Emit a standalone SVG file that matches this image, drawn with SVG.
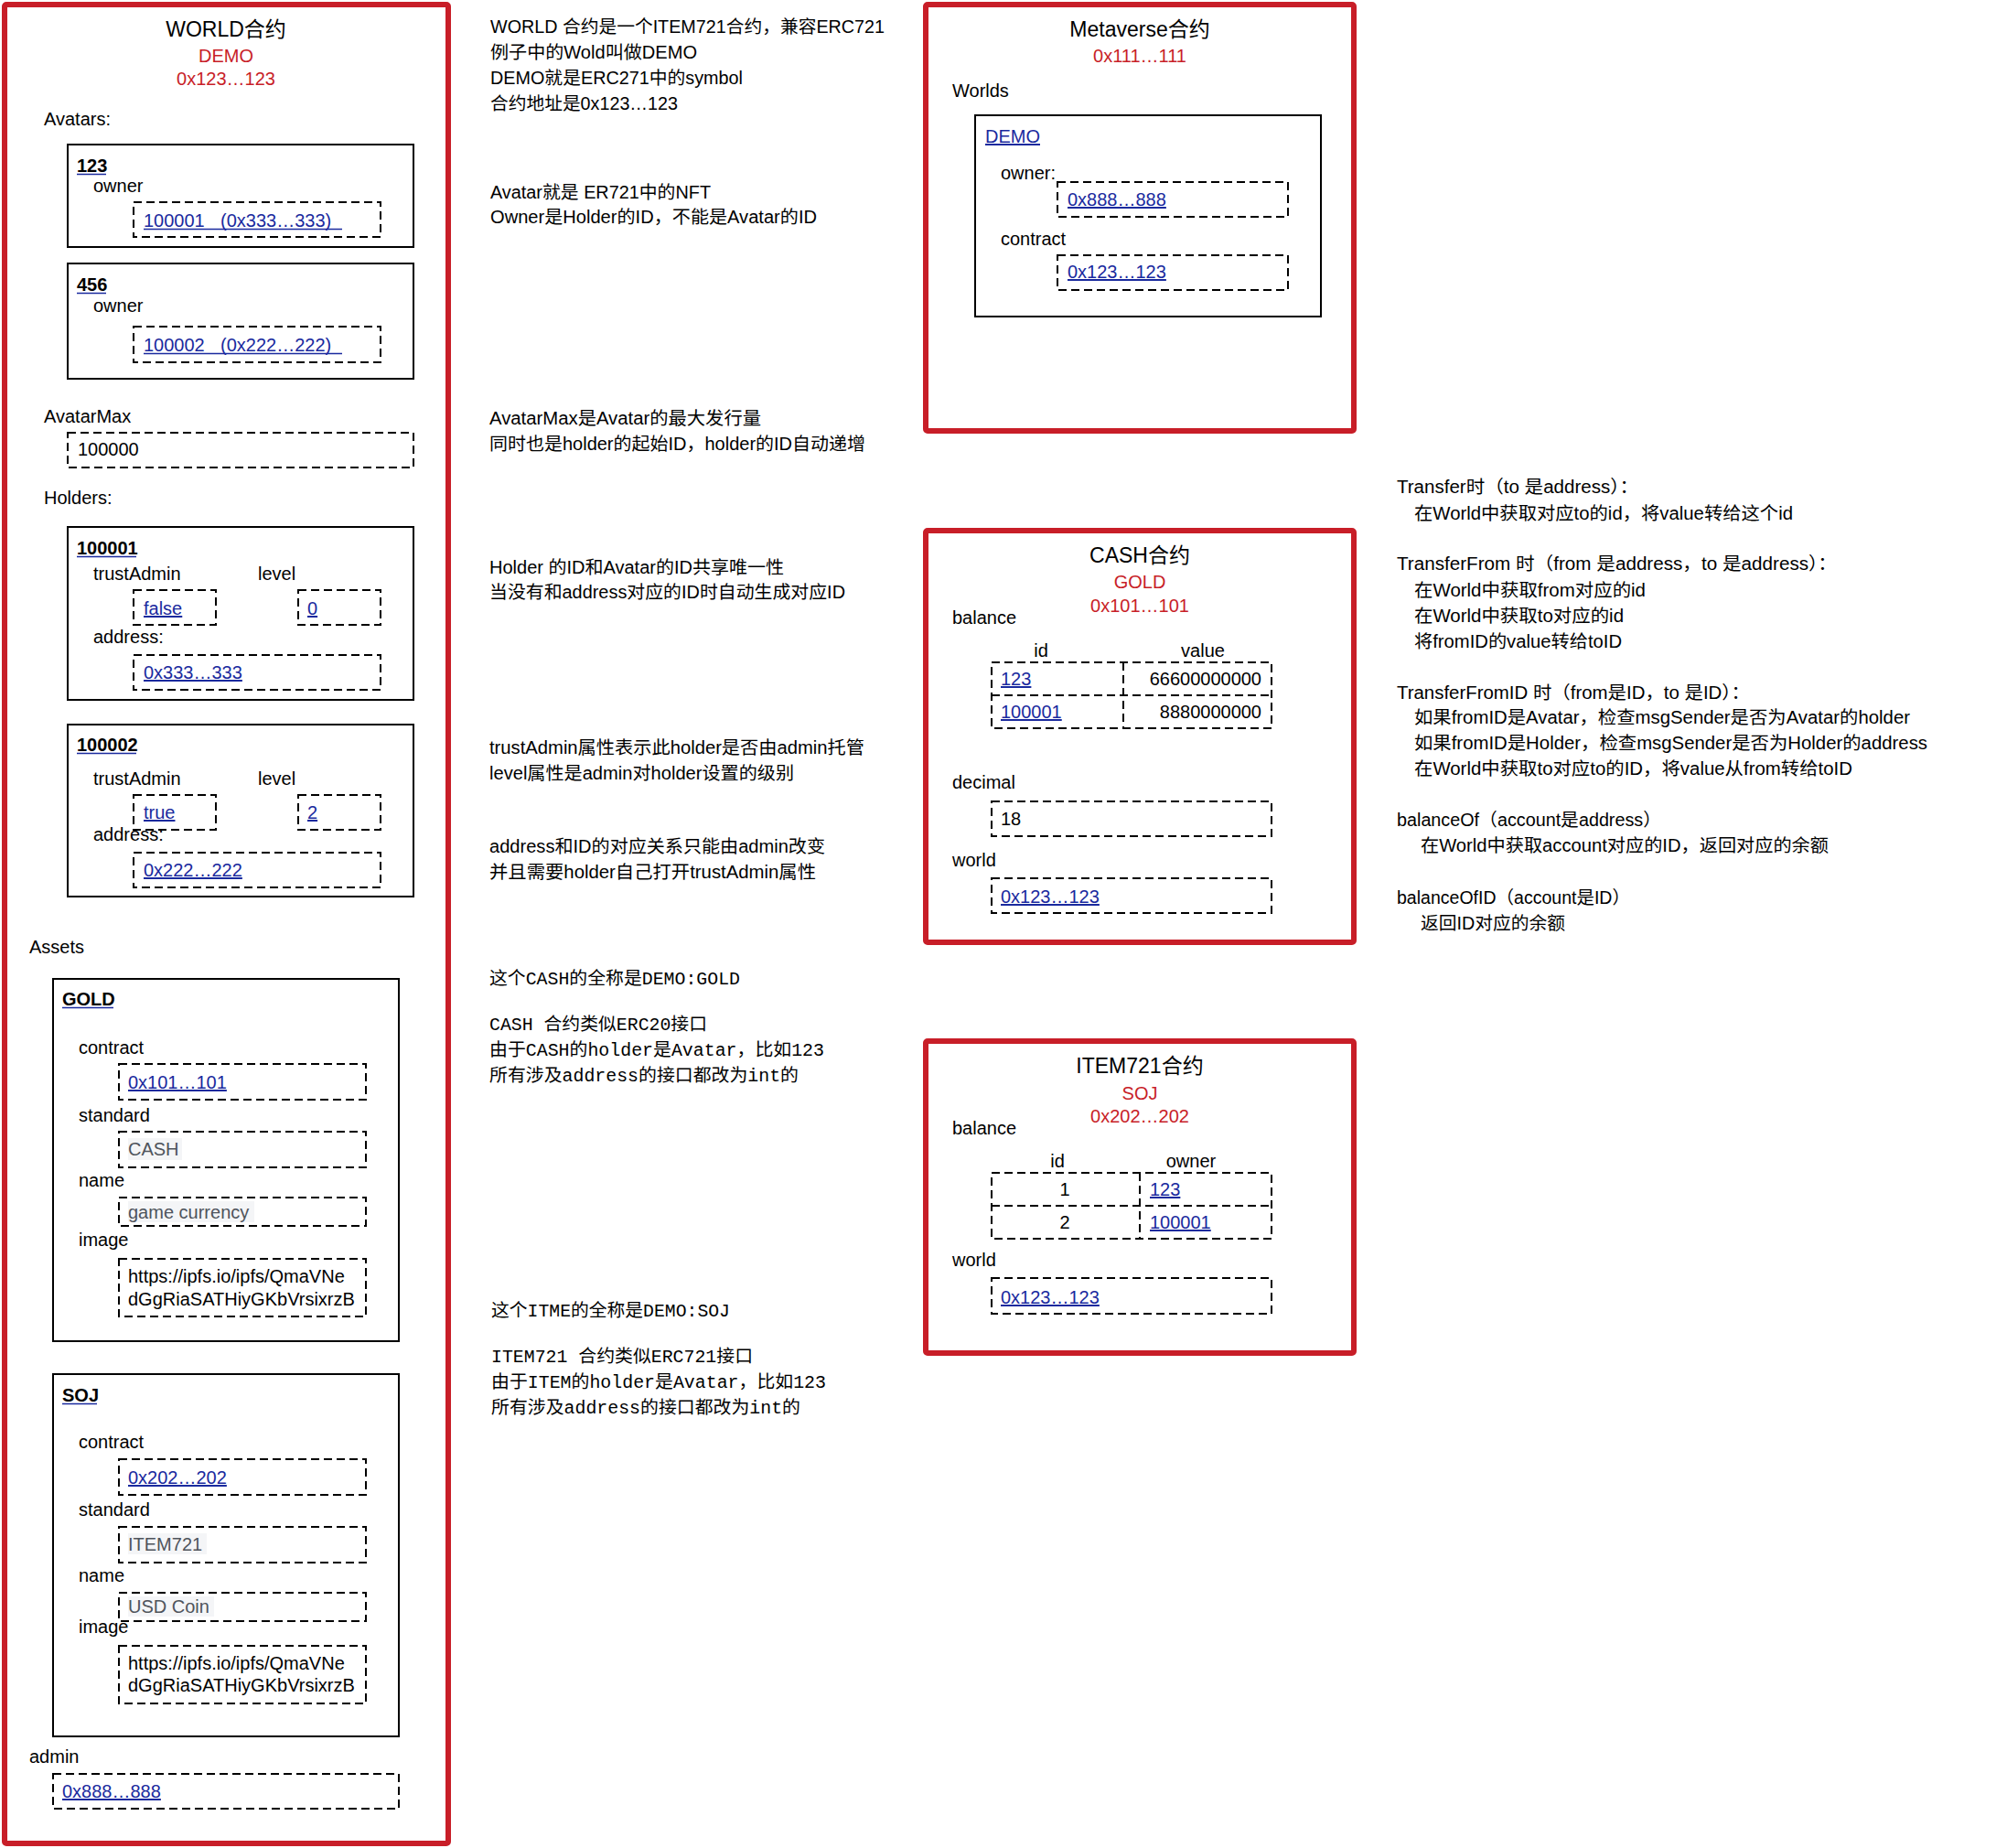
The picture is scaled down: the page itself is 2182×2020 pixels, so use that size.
<svg xmlns="http://www.w3.org/2000/svg" width="2182" height="2020" viewBox="0 0 2182 2020">
<style>
text{font-family:"Liberation Sans","Noto Sans CJK SC",sans-serif;font-size:20px;fill:#000}
.ttl{font-size:23px}
.red{fill:#c81e28}
.lnk{fill:#1a2a9e;text-decoration:underline}
.b{font-weight:bold}
.gray{fill:#4f545c}
.mid{text-anchor:middle}
.end{text-anchor:end}
.box{fill:none;stroke:#000;stroke-width:2}
.dash{fill:none;stroke:#000;stroke-width:2;stroke-dasharray:9 5}
.frame{fill:#fff;stroke:#c81e28;stroke-width:6}
.bg{fill:#f4f5f7}
.ul{stroke:#1a2a9e;stroke-width:1.5}
.note{font-size:19.5px}
.mono{font-family:"Liberation Mono","Noto Sans CJK SC",monospace;font-size:19.5px}
</style>
<rect width="2182" height="2020" fill="#fff"/>

<g id="world">
<rect class="frame" x="5" y="5" width="485" height="2010" rx="2"/>
<text class="ttl mid" x="247" y="40">WORLD合约</text>
<text class="red mid" x="247" y="68">DEMO</text>
<text class="red mid" x="247" y="93">0x123…123</text>
<text x="48" y="137">Avatars:</text>
</g>

<g id="avatar-123">
<rect class="box" x="74" y="158" width="378" height="112"/>
<text class="b" x="84" y="188">123</text>
<line class="ul" x1="84" y1="190.5" x2="116" y2="190.5"/>
<text x="102" y="210">owner</text>
<rect class="dash" x="146" y="221" width="270" height="38"/>
<text class="lnk" x="157" y="248" style="text-decoration:none">100001<tspan x="241">(0x333…333)</tspan></text>
<line class="ul" x1="157" y1="250.5" x2="374" y2="250.5"/>
</g>

<g id="avatar-456">
<rect class="box" x="74" y="288" width="378" height="126"/>
<text class="b" x="84" y="318">456</text>
<line class="ul" x1="84" y1="320.5" x2="116" y2="320.5"/>
<text x="102" y="341">owner</text>
<rect class="dash" x="146" y="357" width="270" height="39"/>
<text class="lnk" x="157" y="384" style="text-decoration:none">100002<tspan x="241">(0x222…222)</tspan></text>
<line class="ul" x1="157" y1="386.5" x2="374" y2="386.5"/>
</g>

<g id="avatar-max">
<text x="48" y="462">AvatarMax</text>
<rect class="dash" x="74" y="473" width="378" height="38"/>
<text x="85" y="498">100000</text>
<text x="48" y="551">Holders:</text>
</g>

<g id="holder-100001">
<rect class="box" x="74" y="576" width="378" height="189"/>
<text class="b" x="84" y="606">100001</text>
<line class="ul" x1="84" y1="608.5" x2="149" y2="608.5"/>
<text x="102" y="634">trustAdmin</text>
<text x="282" y="634">level</text>
<rect class="dash" x="146" y="645" width="90" height="38"/>
<text class="lnk" x="157" y="672">false</text>
<rect class="dash" x="326" y="645" width="90" height="38"/>
<text class="lnk" x="336" y="672">0</text>
<text x="102" y="703">address:</text>
<rect class="dash" x="146" y="716" width="270" height="38"/>
<text class="lnk" x="157" y="742">0x333…333</text>
</g>

<g id="holder-100002">
<rect class="box" x="74" y="792" width="378" height="188"/>
<text class="b" x="84" y="821">100002</text>
<line class="ul" x1="84" y1="823.5" x2="149" y2="823.5"/>
<text x="102" y="858">trustAdmin</text>
<text x="282" y="858">level</text>
<rect class="dash" x="146" y="869" width="90" height="38"/>
<text class="lnk" x="157" y="895">true</text>
<rect class="dash" x="326" y="869" width="90" height="38"/>
<text class="lnk" x="336" y="895">2</text>
<text x="102" y="919">address:</text>
<rect class="dash" x="146" y="932" width="270" height="38"/>
<text class="lnk" x="157" y="958">0x222…222</text>
</g>

<g id="asset-gold">
<text x="32" y="1042">Assets</text>
<rect class="box" x="58" y="1070" width="378" height="396"/>
<text class="b" x="68" y="1099">GOLD</text>
<line class="ul" x1="68" y1="1101.5" x2="124" y2="1101.5"/>
<text x="86" y="1152">contract</text>
<rect class="dash" x="130" y="1163" width="270" height="39"/>
<text class="lnk" x="140" y="1190">0x101…101</text>
<text x="86" y="1226">standard</text>
<rect class="dash" x="130" y="1237" width="270" height="39"/>
<rect class="bg" x="140" y="1244" width="59" height="24"/>
<text class="gray" x="140" y="1263">CASH</text>
<text x="86" y="1297">name</text>
<rect class="dash" x="130" y="1309" width="270" height="31"/>
<rect class="bg" x="140" y="1313" width="138" height="23"/>
<text class="gray" x="140" y="1332">game currency</text>
<text x="86" y="1362">image</text>
<rect class="dash" x="130" y="1376" width="270" height="63"/>
<text x="140" y="1402">https://ipfs.io/ipfs/QmaVNe</text>
<text x="140" y="1427">dGgRiaSATHiyGKbVrsixrzB</text>
</g>

<g id="asset-soj">
<rect class="box" x="58" y="1502" width="378" height="396"/>
<text class="b" x="68" y="1532">SOJ</text>
<line class="ul" x1="68" y1="1534.5" x2="106" y2="1534.5"/>
<text x="86" y="1583">contract</text>
<rect class="dash" x="130" y="1595" width="270" height="39"/>
<text class="lnk" x="140" y="1622">0x202…202</text>
<text x="86" y="1657">standard</text>
<rect class="dash" x="130" y="1669" width="270" height="39"/>
<rect class="bg" x="140" y="1676" width="86" height="23"/>
<text class="gray" x="140" y="1695">ITEM721</text>
<text x="86" y="1729">name</text>
<rect class="dash" x="130" y="1741" width="270" height="31"/>
<rect class="bg" x="140" y="1745" width="94" height="22"/>
<text class="gray" x="140" y="1763">USD Coin</text>
<text x="86" y="1785">image</text>
<rect class="dash" x="130" y="1799" width="270" height="63"/>
<text x="140" y="1825">https://ipfs.io/ipfs/QmaVNe</text>
<text x="140" y="1849">dGgRiaSATHiyGKbVrsixrzB</text>
</g>

<g id="admin">
<text x="32" y="1927">admin</text>
<rect class="dash" x="58" y="1939" width="378" height="38"/>
<text class="lnk" x="68" y="1965">0x888…888</text>
</g>

<g id="notes-middle">
<text class="note" x="536" y="36" textLength="431" lengthAdjust="spacingAndGlyphs">WORLD 合约是一个ITEM721合约，兼容ERC721</text>
<text class="note" x="536" y="64" textLength="226" lengthAdjust="spacingAndGlyphs">例子中的Wold叫做DEMO</text>
<text class="note" x="536" y="92" textLength="276" lengthAdjust="spacingAndGlyphs">DEMO就是ERC271中的symbol</text>
<text class="note" x="536" y="120" textLength="205" lengthAdjust="spacingAndGlyphs">合约地址是0x123…123</text>
<text class="note" x="536" y="217" textLength="241" lengthAdjust="spacingAndGlyphs">Avatar就是 ER721中的NFT</text>
<text class="note" x="536" y="244" textLength="357" lengthAdjust="spacingAndGlyphs">Owner是Holder的ID，不能是Avatar的ID</text>
<text class="note" x="535" y="464" textLength="297" lengthAdjust="spacingAndGlyphs">AvatarMax是Avatar的最大发行量</text>
<text class="note" x="535" y="492" textLength="411" lengthAdjust="spacingAndGlyphs">同时也是holder的起始ID，holder的ID自动递增</text>
<text class="note" x="535" y="627" textLength="322" lengthAdjust="spacingAndGlyphs">Holder 的ID和Avatar的ID共享唯一性</text>
<text class="note" x="535" y="654" textLength="389" lengthAdjust="spacingAndGlyphs">当没有和address对应的ID时自动生成对应ID</text>
<text class="note" x="535" y="824" textLength="410" lengthAdjust="spacingAndGlyphs">trustAdmin属性表示此holder是否由admin托管</text>
<text class="note" x="535" y="852" textLength="333" lengthAdjust="spacingAndGlyphs">level属性是admin对holder设置的级别</text>
<text class="note" x="535" y="932" textLength="367" lengthAdjust="spacingAndGlyphs">address和ID的对应关系只能由admin改变</text>
<text class="note" x="535" y="960" textLength="357" lengthAdjust="spacingAndGlyphs">并且需要holder自己打开trustAdmin属性</text>
<text class="mono" x="535" y="1076" textLength="274" lengthAdjust="spacingAndGlyphs">这个CASH的全称是DEMO:GOLD</text>
<text class="mono" x="535" y="1126" textLength="238" lengthAdjust="spacingAndGlyphs">CASH 合约类似ERC20接口</text>
<text class="mono" x="535" y="1154" textLength="366" lengthAdjust="spacingAndGlyphs">由于CASH的holder是Avatar，比如123</text>
<text class="mono" x="535" y="1182" textLength="338" lengthAdjust="spacingAndGlyphs">所有涉及address的接口都改为int的</text>
<text class="mono" x="537" y="1439" textLength="261" lengthAdjust="spacingAndGlyphs">这个ITME的全称是DEMO:SOJ</text>
<text class="mono" x="537" y="1489" textLength="286" lengthAdjust="spacingAndGlyphs">ITEM721 合约类似ERC721接口</text>
<text class="mono" x="537" y="1517" textLength="366" lengthAdjust="spacingAndGlyphs">由于ITEM的holder是Avatar，比如123</text>
<text class="mono" x="537" y="1545" textLength="338" lengthAdjust="spacingAndGlyphs">所有涉及address的接口都改为int的</text>
</g>

<g id="metaverse">
<rect class="frame" x="1012" y="5" width="468" height="466" rx="2"/>
<text class="ttl mid" x="1246" y="40">Metaverse合约</text>
<text class="red mid" x="1246" y="68">0x111…111</text>
<text x="1041" y="106">Worlds</text>
<rect class="box" x="1066" y="126" width="378" height="220"/>
<text class="lnk" x="1077" y="156">DEMO</text>
<text x="1094" y="196">owner:</text>
<rect class="dash" x="1156" y="199" width="252" height="38"/>
<text class="lnk" x="1167" y="225">0x888…888</text>
<text x="1094" y="268">contract</text>
<rect class="dash" x="1156" y="279" width="252" height="38"/>
<text class="lnk" x="1167" y="304">0x123…123</text>
</g>

<g id="cash">
<rect class="frame" x="1012" y="580" width="468" height="450" rx="2"/>
<text class="ttl mid" x="1246" y="615">CASH合约</text>
<text class="red mid" x="1246" y="643">GOLD</text>
<text class="red mid" x="1246" y="669">0x101…101</text>
<text x="1041" y="682">balance</text>
<text class="mid" x="1138" y="718">id</text>
<text class="mid" x="1315" y="718">value</text>
<rect class="dash" x="1084" y="724" width="306" height="72"/>
<line class="dash" x1="1228" y1="724" x2="1228" y2="796"/>
<line class="dash" x1="1084" y1="760" x2="1390" y2="760"/>
<text class="lnk" x="1094" y="749">123</text>
<text class="end" x="1379" y="749">66600000000</text>
<text class="lnk" x="1094" y="785">100001</text>
<text class="end" x="1379" y="785">8880000000</text>
<text x="1041" y="862">decimal</text>
<rect class="dash" x="1084" y="876" width="306" height="38"/>
<text x="1094" y="902">18</text>
<text x="1041" y="947">world</text>
<rect class="dash" x="1084" y="960" width="306" height="38"/>
<text class="lnk" x="1094" y="987">0x123…123</text>
</g>

<g id="item721">
<rect class="frame" x="1012" y="1138" width="468" height="341" rx="2"/>
<text class="ttl mid" x="1246" y="1173">ITEM721合约</text>
<text class="red mid" x="1246" y="1202">SOJ</text>
<text class="red mid" x="1246" y="1227">0x202…202</text>
<text x="1041" y="1240">balance</text>
<text class="mid" x="1156" y="1276">id</text>
<text class="mid" x="1302" y="1276">owner</text>
<rect class="dash" x="1084" y="1282" width="306" height="72"/>
<line class="dash" x1="1246" y1="1282" x2="1246" y2="1354"/>
<line class="dash" x1="1084" y1="1318" x2="1390" y2="1318"/>
<text class="mid" x="1164" y="1307">1</text>
<text class="lnk" x="1257" y="1307">123</text>
<text class="mid" x="1164" y="1343">2</text>
<text class="lnk" x="1257" y="1343">100001</text>
<text x="1041" y="1384">world</text>
<rect class="dash" x="1084" y="1397" width="306" height="39"/>
<text class="lnk" x="1094" y="1425">0x123…123</text>
</g>

<g id="notes-right">
<text class="note" x="1527" y="539" textLength="264" lengthAdjust="spacingAndGlyphs">Transfer时（to 是address）：</text>
<text class="note" x="1546" y="568" textLength="414" lengthAdjust="spacingAndGlyphs">在World中获取对应to的id，将value转给这个id</text>
<text class="note" x="1527" y="623" textLength="481" lengthAdjust="spacingAndGlyphs">TransferFrom 时（from 是address，to 是address）：</text>
<text class="note" x="1546" y="652" textLength="253" lengthAdjust="spacingAndGlyphs">在World中获取from对应的id</text>
<text class="note" x="1546" y="680" textLength="229" lengthAdjust="spacingAndGlyphs">在World中获取to对应的id</text>
<text class="note" x="1546" y="708" textLength="227" lengthAdjust="spacingAndGlyphs">将fromID的value转给toID</text>
<text class="note" x="1527" y="764" textLength="386" lengthAdjust="spacingAndGlyphs">TransferFromID 时（from是ID，to 是ID）：</text>
<text class="note" x="1546" y="791" textLength="542" lengthAdjust="spacingAndGlyphs">如果fromID是Avatar，检查msgSender是否为Avatar的holder</text>
<text class="note" x="1546" y="819" textLength="561" lengthAdjust="spacingAndGlyphs">如果fromID是Holder，检查msgSender是否为Holder的address</text>
<text class="note" x="1546" y="847" textLength="479" lengthAdjust="spacingAndGlyphs">在World中获取to对应to的ID，将value从from转给toID</text>
<text class="note" x="1527" y="903" textLength="289" lengthAdjust="spacingAndGlyphs">balanceOf（account是address）</text>
<text class="note" x="1553" y="931" textLength="446" lengthAdjust="spacingAndGlyphs">在World中获取account对应的ID，返回对应的余额</text>
<text class="note" x="1527" y="988" textLength="255" lengthAdjust="spacingAndGlyphs">balanceOfID（account是ID）</text>
<text class="note" x="1553" y="1016" textLength="158" lengthAdjust="spacingAndGlyphs">返回ID对应的余额</text>
</g>

<g id="connectors"/>
</svg>
